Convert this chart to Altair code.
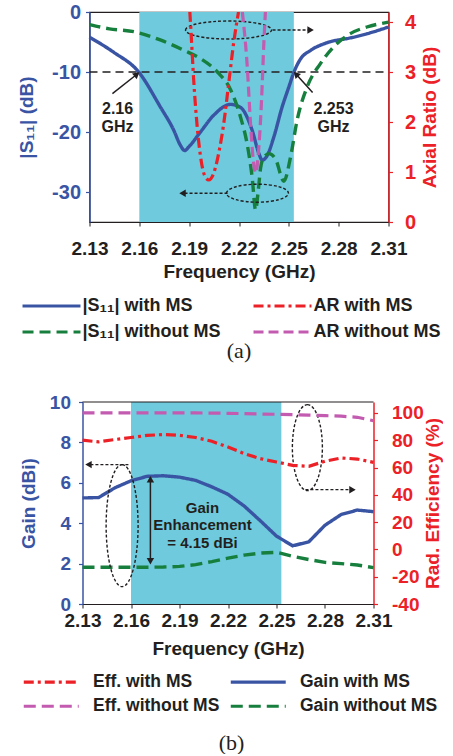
import altair as alt
import pandas as pd

FONT = "Liberation Sans"
SERIF = "Liberation Serif"
BLUE = "#3a54a4"
GREEN = "#177f3d"
RED = "#ec2127"
MAGENTA = "#c35bb0"
BAND = "#6ecadc"
INK = "#231f20"

# ---------------- shared ----------------
freq_ticks = [2.13, 2.16, 2.19, 2.22, 2.25, 2.28, 2.31]
freq_range = [2.13, 2.31]
band_start = [2.16]
band_end = [2.253]

# ---------------- panel (a) ----------------
s11_ticks = [0, -10, -20, -30]
ar_ticks = [0, 1, 2, 3, 4]
ref_level = [-10]

s11_ms_f = [2.13, 2.1445, 2.1596, 2.1726, 2.1807, 2.1847, 2.1873, 2.1897, 2.1968, 2.2048,
            2.2149, 2.2209, 2.2279, 2.232, 2.234, 2.237, 2.241, 2.246, 2.250, 2.2531,
            2.2571, 2.2631, 2.2732, 2.2873, 2.2973, 2.31]
s11_ms_v = [-4.2, -6.7, -10.0, -15.8, -19.7, -22.2, -23.1, -22.5, -20.0, -17.2,
            -15.4, -15.9, -19.7, -23.6, -24.7, -23.9, -20.8, -15.8, -12.5, -10.0,
            -7.8, -6.4, -5.1, -4.3, -3.6, -2.5]

s11_noms_f = [2.13, 2.142, 2.157, 2.173, 2.187, 2.197, 2.207, 2.215, 2.2209, 2.2249,
              2.2279, 2.2300, 2.2315, 2.2330, 2.2350, 2.2380, 2.2420, 2.2470, 2.2510,
              2.255, 2.261, 2.269, 2.277, 2.287, 2.297, 2.31]
s11_noms_v = [-2.1, -2.8, -3.3, -4.7, -6.4, -7.8, -10.0, -13.0, -17.5, -22.0,
              -27.5, -33.0, -30.0, -26.0, -24.2, -23.6, -24.5, -28.2, -24.2,
              -18.0, -12.5, -8.6, -5.8, -3.6, -2.5, -1.7]

ar_ms_f = [2.1904, 2.1911, 2.1928, 2.1948, 2.1968, 2.1992, 2.2018, 2.2048, 2.2078,
           2.2109, 2.2139, 2.2169, 2.2197]
ar_ms_v = [4.2, 3.81, 2.80, 1.92, 1.32, 0.94, 0.84, 0.98, 1.38,
           1.99, 2.80, 3.61, 4.2]

ar_noms_f = [2.2220, 2.2249, 2.2269, 2.2286, 2.2300, 2.2320, 2.2336, 2.2350, 2.2359]
ar_noms_v = [4.2, 3.14, 1.99, 1.24, 0.98, 1.52, 2.46, 3.61, 4.2]

# legend entries are placed column by column
series_a = ["|S₁₁| with MS", "|S₁₁| without MS", "AR with MS", "AR without MS"]
colors_a = [BLUE, GREEN, RED, MAGENTA]
dashes_a = [[1, 0], [11, 6], [10, 4, 3, 4], [10, 5]]

# annotations (a) in data coordinates
lab_a_f = [2.1469, 2.2769]
lab_a_v = [-16.2, -16.2]
lab_a_t = ["2.16\nGHz", "2.253\nGHz"]
arr_a_f = [2.1438, 2.2643]
arr_a_v = [-13.6, -13.4]
arr_a_f2 = [2.1580, 2.2548]
arr_a_v2 = [-10.5, -10.5]
ell_a_f = [2.2137, 2.2311]
ell_a_v = [-3.0, -30.2]
darr_a_f = [2.2402, 2.2131]
darr_a_f2 = [2.2631, 2.1860]
darr_a_v = [-3.0, -30.2]

# ---------------- panel (b) ----------------
gain_ticks = [0, 2, 4, 6, 8, 10]
eff_ticks = [-40, -20, 0, 20, 40, 60, 80, 100]
freq_b = [2.13, 2.14, 2.15, 2.16, 2.17, 2.18, 2.19, 2.20, 2.21, 2.22,
          2.23, 2.24, 2.25, 2.26, 2.27, 2.28, 2.29, 2.30, 2.31]
gain_ms = [5.25, 5.27, 5.75, 6.10, 6.32, 6.35, 6.28, 6.12, 5.80, 5.43,
           4.85, 4.12, 3.36, 2.88, 3.08, 3.90, 4.43, 4.65, 4.57]
gain_noms = [1.82, 1.82, 1.82, 1.82, 1.82, 1.83, 1.86, 1.95, 2.10, 2.27,
             2.42, 2.52, 2.56, 2.36, 2.20, 2.06, 2.00, 1.93, 1.80]
eff_ms = [80.0, 78.8, 80.5, 82.0, 83.5, 84.2, 83.6, 82.0, 79.2, 75.0,
          70.2, 66.5, 64.0, 61.6, 60.9, 64.6, 67.0, 66.2, 63.8]
eff_noms = [100.0, 100.0, 100.0, 100.0, 100.0, 100.0, 100.0, 100.0, 99.9, 99.7,
            99.5, 99.2, 99.0, 98.7, 98.4, 98.0, 97.6, 96.8, 94.3]

series_b = ["Eff. with MS", "Eff. without MS", "Gain with MS", "Gain without MS"]
colors_b = [RED, MAGENTA, BLUE, GREEN]
dashes_b = [[10, 4, 3, 4], [12, 6], [1, 0], [12, 6]]

txt_b_f = [2.2042]
txt_b_v = [4.77]
txt_b_t = ["Gain\nEnhancement\n= 4.15 dBi"]
enh_f = [2.172]
enh_top = [6.18]
enh_bot = [2.12]
ell_b_f = [2.1545, 2.2691]
ell_b_v = [3.88, 7.74]
darr_b_f = [2.1584, 2.2679]
darr_b_f2 = [2.1337, 2.2970]
darr_b_v = [6.9, 5.66]

HYPHEN = "datum.value < 0 ? '-' + format(-datum.value, 'd') : format(datum.value, 'd')"


def x_axis(label_pad, title_pad):
    return alt.Axis(values=freq_ticks, format=".2f", title="Frequency (GHz)",
                    labelFontSize=19, titleFontSize=19, labelPadding=label_pad,
                    titlePadding=title_pad, tickSize=4, grid=False, labelFlush=False,
                    labelOverlap=False, domainColor=INK, tickColor=INK,
                    labelColor=INK, titleColor=INK)


def y_axis(values, title, color, orient, lsize, lpad, tpad, offset=0):
    kw = {}
    if orient == "right":
        kw["titleAngle"] = 270
        kw["titleBaseline"] = "top"
    return alt.Axis(values=values, title=title, orient=orient, labelExpr=HYPHEN,
                    labelFontSize=lsize, titleFontSize=19, labelPadding=lpad,
                    titlePadding=tpad, tickSize=4, grid=False, domainColor=color,
                    tickColor=color, labelColor=color, titleColor=color,
                    domainWidth=1.5, tickWidth=1.2, offset=offset, **kw)


def ellipse(df, rx, ry, X, Y):
    if rx >= ry:
        r = ry / rx
        path = f"M -1 0 A 1 {r:.3f} 0 1 1 1 0 A 1 {r:.3f} 0 1 1 -1 0 Z"
        size = (2 * rx) ** 2
    else:
        r = rx / ry
        path = f"M 0 -1 A {r:.3f} 1 0 1 1 0 1 A {r:.3f} 1 0 1 1 0 -1 Z"
        size = (2 * ry) ** 2
    return alt.Chart(df).mark_point(shape=path, size=size, stroke=INK, strokeWidth=1.4,
                                    strokeDash=[3, 2], filled=False, opacity=1).encode(
        x=X("f"), y=Y("v"))


def head(df, shape, X, Y, angle=0):
    return alt.Chart(df).mark_point(shape=shape, size=55, filled=True, color=INK,
                                    opacity=1, angle=angle).encode(x=X("f"), y=Y("v"))


def long_df(pairs):
    rows = []
    for name, fs, vs in pairs:
        for f, v in zip(fs, vs):
            rows.append({"f": f, "v": v, "series": name})
    return pd.DataFrame(rows)


def legend(x, y, half_len, font_size, col_pad, row_pad, label_off):
    return alt.Legend(title=None, orient="none", legendX=x, legendY=y, columns=2,
                      symbolType=f"M -{half_len:.2f} 0 L {half_len:.2f} 0", symbolSize=144,
                      symbolStrokeWidth=3.2, labelFont=FONT, labelFontSize=font_size,
                      labelFontWeight="bold", labelColor=INK, labelLimit=400,
                      columnPadding=col_pad, rowPadding=row_pad, labelOffset=label_off,
                      padding=0)


# ======================= panel (a) =======================
xa_scale = alt.Scale(domain=freq_range, nice=False, zero=False)
xa_axis = x_axis(13, 4)
ya_scale = alt.Scale(domain=[-35, 0], nice=False, zero=False)
ya_axis = y_axis(s11_ticks, "|S₁₁| (dB)", BLUE, "left", 20, 5, 15)
ra_scale = alt.Scale(domain=[0, 4.2], nice=False, zero=False)
ra_axis = y_axis(ar_ticks, "Axial Ratio (dB)", RED, "right", 20, 12, 5)


def XA(field):
    return alt.X(f"{field}:Q", scale=xa_scale, axis=xa_axis)


def YA(field):
    return alt.Y(f"{field}:Q", scale=ya_scale, axis=ya_axis)


leg_a = legend(-47, 285, 4.83, 18, 26, 8, 22)
col_a = alt.Scale(domain=series_a, range=colors_a)
dash_a = alt.Scale(domain=series_a, range=dashes_a)

band_a = alt.Chart(pd.DataFrame({"f": band_start, "f2": band_end, "v": [-35], "v2": [0]})).mark_rect(
    color=BAND).encode(x=XA("f"), x2="f2", y=YA("v"), y2="v2")
ref_a = alt.Chart(pd.DataFrame({"f": [freq_range[0]], "f2": [freq_range[1]], "v": ref_level})).mark_rule(
    color=INK, strokeWidth=1.4, strokeDash=[8, 5]).encode(x=XA("f"), x2="f2", y=YA("v"))
s11_df = long_df([(series_a[0], s11_ms_f, s11_ms_v), (series_a[1], s11_noms_f, s11_noms_v)])
s11_lines = alt.Chart(s11_df).mark_line(strokeWidth=3.4, interpolate="monotone").encode(
    x=XA("f"), y=YA("v"),
    color=alt.Color("series:N", scale=col_a, legend=leg_a),
    strokeDash=alt.StrokeDash("series:N", scale=dash_a, legend=leg_a))

lab_a = alt.Chart(pd.DataFrame({"f": lab_a_f, "v": lab_a_v, "t": lab_a_t})).mark_text(
    font=FONT, fontSize=16, fontWeight="bold", color=INK, lineBreak="\n", lineHeight=18
).encode(x=XA("f"), y=YA("v"), text="t:N")
arr_a = alt.Chart(pd.DataFrame({"f": arr_a_f, "f2": arr_a_f2, "v": arr_a_v, "v2": arr_a_v2})).mark_rule(
    color=INK, strokeWidth=1.5).encode(x=XA("f"), x2="f2", y=YA("v"), y2="v2")
head_a1 = head(pd.DataFrame({"f": [arr_a_f2[0]], "v": [arr_a_v2[0]]}), "triangle", XA, YA, 50)
head_a2 = head(pd.DataFrame({"f": [arr_a_f2[1]], "v": [arr_a_v2[1]]}), "triangle", XA, YA, 317)
ell_a1 = ellipse(pd.DataFrame({"f": [ell_a_f[0]], "v": [ell_a_v[0]]}), 43, 9, XA, YA)
ell_a2 = ellipse(pd.DataFrame({"f": [ell_a_f[1]], "v": [ell_a_v[1]]}), 31, 9, XA, YA)
darr_a = alt.Chart(pd.DataFrame({"f": darr_a_f, "f2": darr_a_f2, "v": darr_a_v})).mark_rule(
    color=INK, strokeWidth=1.4, strokeDash=[3, 2]).encode(x=XA("f"), x2="f2", y=YA("v"))
dhead_a1 = head(pd.DataFrame({"f": [darr_a_f2[0]], "v": [darr_a_v[0]]}), "triangle-right", XA, YA)
dhead_a2 = head(pd.DataFrame({"f": [darr_a_f2[1]], "v": [darr_a_v[1]]}), "triangle-left", XA, YA)

ar_df = long_df([(series_a[2], ar_ms_f, ar_ms_v), (series_a[3], ar_noms_f, ar_noms_v)])
ar_lines = alt.Chart(ar_df).mark_line(strokeWidth=3.2, interpolate="monotone", clip=True).encode(
    x=XA("f"), y=alt.Y("v:Q", scale=ra_scale, axis=ra_axis),
    color=alt.Color("series:N", scale=col_a, legend=leg_a),
    strokeDash=alt.StrokeDash("series:N", scale=dash_a, legend=leg_a))

left_a = alt.layer(band_a, ref_a, s11_lines, lab_a, arr_a, head_a1, head_a2,
                   ell_a1, ell_a2, darr_a, dhead_a1, dhead_a2)
chart_a = alt.layer(left_a, ar_lines).resolve_scale(y="independent").properties(
    width=299, height=210,
    title=alt.TitleParams("(a)", orient="bottom", font=SERIF, fontSize=22,
                          fontWeight="normal", color=INK, offset=0))

# ======================= panel (b) =======================
# panel (b) starts 7 px further left than panel (a): its x range begins at -7
xb_scale = alt.Scale(domain=freq_range, range=[-7, 284], nice=False, zero=False)
xb_axis = x_axis(3, 9)
yb_scale = alt.Scale(domain=[0, 10], nice=False, zero=False)
yb_axis = y_axis(gain_ticks, "Gain (dBi)", BLUE, "left", 19, 8, 11, offset=7)
rb_scale = alt.Scale(domain=[-40, 108], nice=False, zero=False)
rb_axis = y_axis(eff_ticks, "Rad. Efficiency (%)", RED, "right", 19, 14, 0)


def XB(field):
    return alt.X(f"{field}:Q", scale=xb_scale, axis=xb_axis)


def YB(field):
    return alt.Y(f"{field}:Q", scale=yb_scale, axis=yb_axis)


leg_b = legend(-47, 271, 4.58, 17.5, 4, 5.5, 33)
col_b = alt.Scale(domain=series_b, range=colors_b)
dash_b = alt.Scale(domain=series_b, range=dashes_b)

band_b = alt.Chart(pd.DataFrame({"f": band_start, "f2": band_end, "v": [0], "v2": [10]})).mark_rect(
    color=BAND).encode(x=XB("f"), x2="f2", y=YB("v"), y2="v2")
frame_b = alt.Chart(pd.DataFrame({"f": [freq_range[0]], "f2": [freq_range[1]], "v": [10]})).mark_rule(
    color=INK, strokeWidth=1.2).encode(x=XB("f"), x2="f2", y=YB("v"))
gain_df = long_df([(series_b[2], freq_b, gain_ms), (series_b[3], freq_b, gain_noms)])
gain_lines = alt.Chart(gain_df).mark_line(strokeWidth=3.4).encode(
    x=XB("f"), y=YB("v"),
    color=alt.Color("series:N", scale=col_b, legend=leg_b),
    strokeDash=alt.StrokeDash("series:N", scale=dash_b, legend=leg_b))
txt_b = alt.Chart(pd.DataFrame({"f": txt_b_f, "v": txt_b_v, "t": txt_b_t})).mark_text(
    font=FONT, fontSize=15, fontWeight="bold", color=INK, lineBreak="\n", lineHeight=17.5
).encode(x=XB("f"), y=YB("v"), text="t:N")
enh = alt.Chart(pd.DataFrame({"f": enh_f, "v": enh_top, "v2": enh_bot})).mark_rule(
    color=INK, strokeWidth=1.5).encode(x=XB("f"), y=YB("v"), y2="v2")
enh_h1 = head(pd.DataFrame({"f": enh_f, "v": enh_top}), "triangle-up", XB, YB)
enh_h2 = head(pd.DataFrame({"f": enh_f, "v": enh_bot}), "triangle-down", XB, YB)
ell_b1 = ellipse(pd.DataFrame({"f": [ell_b_f[0]], "v": [ell_b_v[0]]}), 16, 61, XB, YB)
ell_b2 = ellipse(pd.DataFrame({"f": [ell_b_f[1]], "v": [ell_b_v[1]]}), 15, 43, XB, YB)
darr_b = alt.Chart(pd.DataFrame({"f": darr_b_f, "f2": darr_b_f2, "v": darr_b_v})).mark_rule(
    color=INK, strokeWidth=1.4, strokeDash=[3, 2]).encode(x=XB("f"), x2="f2", y=YB("v"))
dhead_b1 = head(pd.DataFrame({"f": [darr_b_f2[0]], "v": [darr_b_v[0]]}), "triangle-left", XB, YB)
dhead_b2 = head(pd.DataFrame({"f": [darr_b_f2[1]], "v": [darr_b_v[1]]}), "triangle-right", XB, YB)

eff_df = long_df([(series_b[0], freq_b, eff_ms), (series_b[1], freq_b, eff_noms)])
eff_lines = alt.Chart(eff_df).mark_line(strokeWidth=3.2).encode(
    x=XB("f"), y=alt.Y("v:Q", scale=rb_scale, axis=rb_axis),
    color=alt.Color("series:N", scale=col_b, legend=leg_b),
    strokeDash=alt.StrokeDash("series:N", scale=dash_b, legend=leg_b))

left_b = alt.layer(band_b, frame_b, gain_lines, txt_b, enh, enh_h1, enh_h2, ell_b1, ell_b2,
                   darr_b, dhead_b1, dhead_b2)
chart_b = alt.layer(left_b, eff_lines).resolve_scale(y="independent").properties(
    width=284, height=202, view=alt.ViewBackground(strokeOpacity=0),
    title=alt.TitleParams("(b)", orient="bottom", font=SERIF, fontSize=22,
                          fontWeight="normal", color=INK, offset=18))

chart = alt.ConcatChart(concat=[chart_a, chart_b], columns=1, spacing=30, align="none",
                        bounds="full").resolve_scale(
    color="independent", strokeDash="independent", x="independent", y="independent"
).properties(padding={"left": 16.5, "top": 1, "right": 0, "bottom": 0}).configure_view(
    stroke=INK, strokeWidth=1.2
).configure_axis(labelFont=FONT, titleFont=FONT, labelFontWeight="bold", titleFontWeight="bold")

chart.save("out.html", embed_options={"renderer": "svg", "actions": False})
